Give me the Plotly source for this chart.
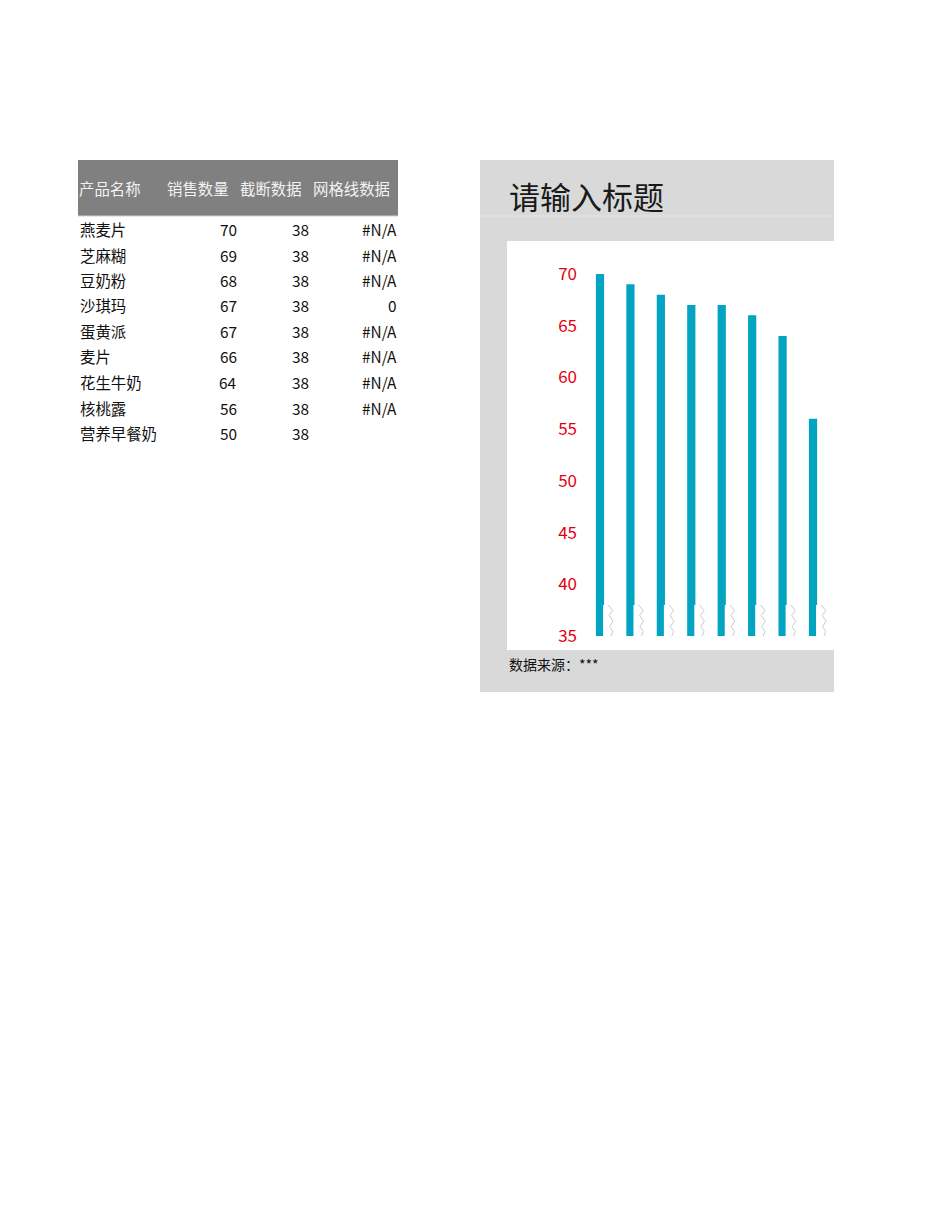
import plotly.graph_objects as go

# ---------------------------------------------------------------- data
headers = ["产品名称", "销售数量", "截断数据", "网格线数据"]
products = ["燕麦片", "芝麻糊", "豆奶粉", "沙琪玛", "蛋黄派", "麦片", "花生牛奶", "核桃露", "营养早餐奶"]
sales = [70, 69, 68, 67, 67, 66, 64, 56, 50]
cutoff = [38, 38, 38, 38, 38, 38, 38, 38, 38]
gridline = ["#N/A", "#N/A", "#N/A", "0", "#N/A", "#N/A", "#N/A", "#N/A", ""]

chart_title = "请输入标题"
source_note = "数据来源：***"

Y_MIN, Y_MAX, Y_STEP = 35, 70, 5

# ---------------------------------------------------------------- page geometry (px)
# the page body has an 8px margin, so the figure is a little smaller than the window
BODY = 8
W, H = 950 - 2 * BODY, 1230 - 2 * BODY
FONT = "Noto Sans CJK SC"
BAR = "#03A4C1"
PANEL = "#D9D9D9"


def px(x):
    return (x - BODY) / W


def py(y):
    return 1 - (y - BODY) / H


# ---------------------------------------------------------------- traces
xs = list(range(len(products)))

bars = go.Bar(
    x=xs, y=sales, name="销售数量",
    width=0.27, offset=-0.135,
    marker=dict(color=BAR, line=dict(width=0)),
    hoverinfo="skip",
)

# white cut-off bar that nicks the right edge of each column
cut_bar = go.Bar(
    x=xs, y=cutoff, name="截断数据",
    width=0.40, offset=0.10,
    marker=dict(color="white", line=dict(width=0)),
    hoverinfo="skip",
)

# zig-zag break mark drawn from the cut-off value down to the axis floor
zig_dx = [0.27, 0.42, 0.30, 0.43, 0.31, 0.42, 0.36]
zig_t = [0, 0.18, 0.34, 0.52, 0.70, 0.85, 1.0]
zx, zy = [], []
for i, c in zip(xs, cutoff):
    for dx, t in zip(zig_dx, zig_t):
        zx.append(i + dx)
        zy.append(c - (c - Y_MIN) * t)
    zx.append(None)
    zy.append(None)

zig = go.Scatter(
    x=zx, y=zy, mode="lines",
    line=dict(color="#CBCBCB", width=1),
    hoverinfo="skip",
)

fig = go.Figure([bars, cut_bar, zig])

# ---------------------------------------------------------------- background blocks
shapes = [
    dict(type="rect", xref="paper", yref="paper", layer="below",
         x0=px(480), x1=px(834), y0=py(692), y1=py(160),
         fillcolor=PANEL, line=dict(width=0)),
    dict(type="line", xref="paper", yref="paper", layer="below",
         x0=px(480), x1=px(834), y0=py(216), y1=py(216),
         line=dict(color="#E4E4E4", width=1)),
    dict(type="rect", xref="paper", yref="paper", layer="below",
         x0=px(507), x1=px(834), y0=py(650), y1=py(241),
         fillcolor="white", line=dict(width=0)),
    # table header band
    dict(type="rect", xref="paper", yref="paper", layer="below",
         x0=px(78), x1=px(398), y0=py(216), y1=py(160),
         fillcolor="#808080", line=dict(width=0)),
    dict(type="line", xref="paper", yref="paper", layer="below",
         x0=px(78), x1=px(398), y0=py(216), y1=py(216),
         line=dict(color="#D0D0D0", width=1)),
]

# ---------------------------------------------------------------- text
ann = []


def txt(s, x, y, anchor="left", size=15.4, color="#111111"):
    ann.append(dict(text=s, x=px(x), y=py(y), xref="paper", yref="paper",
                    xanchor=anchor, yanchor="middle", showarrow=False,
                    borderpad=0, font=dict(family=FONT, size=size, color=color)))


txt(chart_title, 508, 195, size=31, color="#1A1A1A")
txt(source_note, 508, 664, size=14, color="#111111")

# table
head_pos = [(78, "left"), (230, "right"), (303, "right"), (391, "right")]
for h, (x, a) in zip(headers, head_pos):
    txt(h, x, 188, anchor=a, color="#F2F2F2")

row0, row_h = 229, 25.5
for r, (p, s, c, g) in enumerate(zip(products, sales, cutoff, gridline)):
    y = row0 + r * row_h
    txt(p, 79, y)
    txt(str(s), 238, y, anchor="right")
    txt(str(c), 310, y, anchor="right")
    if g:
        txt(g, 398, y, anchor="right")

# ---------------------------------------------------------------- layout
x0_px, x1_px, c0_px, step_px = 585, 834, 600, 30.43
fig.update_layout(
    width=W, height=H,
    margin=dict(l=0, r=0, t=0, b=0, autoexpand=False),
    paper_bgcolor="white", plot_bgcolor="rgba(0,0,0,0)",
    barmode="overlay", showlegend=False,
    shapes=shapes, annotations=ann,
    xaxis=dict(domain=[px(x0_px), px(x1_px)],
               range=[(x0_px - c0_px) / step_px, (x1_px - c0_px) / step_px],
               visible=False, fixedrange=True, automargin=False),
    yaxis=dict(domain=[py(636), py(274)],
               range=[Y_MIN, Y_MAX], dtick=Y_STEP, tick0=Y_MIN,
               showgrid=False, zeroline=False, showline=False, ticks="",
               ticklabelstandoff=7, automargin=False,
               tickfont=dict(family=FONT, size=17, color="#E5000F"),
               fixedrange=True),
)

fig.write_html("out.html")
